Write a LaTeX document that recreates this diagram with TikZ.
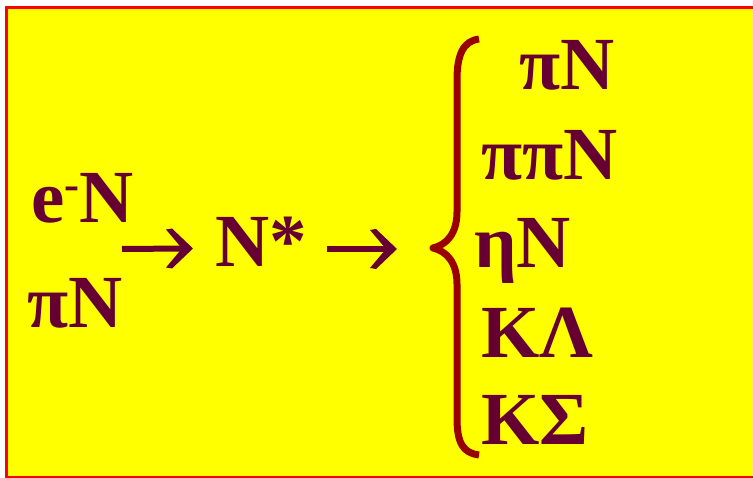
\documentclass[tikz,border=0pt]{standalone}
\usepackage{fontspec}
\setmainfont{Liberation Serif}
\definecolor{ink}{RGB}{102,0,51}
\definecolor{bracered}{RGB}{153,0,0}
\definecolor{bgyellow}{RGB}{255,255,0}
\definecolor{frame}{RGB}{255,0,0}
\begin{document}
\begin{tikzpicture}[x=1pt,y=-1pt,
  txt/.style={anchor=base west, inner sep=0pt, text=ink, font=\fontsize{75}{90}\selectfont\bfseries},
  shaft/.style={draw=ink, line width=6pt},
  arrowhead/.style={fill=ink},
  bracepath/.style={draw=bracered, line width=7pt, line join=round}]
\useasboundingbox (0,0) rectangle (753,478);
\clip (0,0) rectangle (753,478);
\fill[white] (0,0) rectangle (753,478);
\filldraw[fill=bgyellow, draw=frame, line width=3pt] (6,7.5) rectangle (770,477);

% left side
\node[txt] (eN) at (31,223) {e\raisebox{23pt}{\fontsize{45}{45}\selectfont -}N};
\node[txt] (piN) at (27,328) {πN};
\node[txt] (Nstar) at (215,267) {N*};

% arrows
\coordinate (a1s) at (122,249);
\coordinate (a1e) at (193,248.5);
\coordinate (a2s) at (327,249);
\coordinate (a2e) at (397,249);
\foreach \s/\e in {a1s/a1e, a2s/a2e}{
  \draw[shaft] (\s) -- ([xshift=-8pt]\e);
  \fill[arrowhead] (\e) -- ++(-21,-20) -- ++(-6,1) -- ++(16,19) -- ++(-16,19) -- ++(6,1) -- cycle;
}

% brace
\draw[bracepath] (479,39) .. controls (463,41) and (457,55) .. (457,80)
  -- (457,212) .. controls (457,234) and (446,245) .. (433,248)
  .. controls (446,251) and (457,262) .. (457,284)
  -- (457,418) .. controls (457,443) and (463,453) .. (479,455);

% right list
\node[txt] (r1) at (519,90) {πN};
\node[txt] (r2) at (481,180) {ππN};
\node[txt] (r3) at (474,268) {ηN};
\node[txt] (r4) at (481,358) {KΛ};
\node[txt] (r5) at (481,445) {KΣ};
\end{tikzpicture}
\end{document}
